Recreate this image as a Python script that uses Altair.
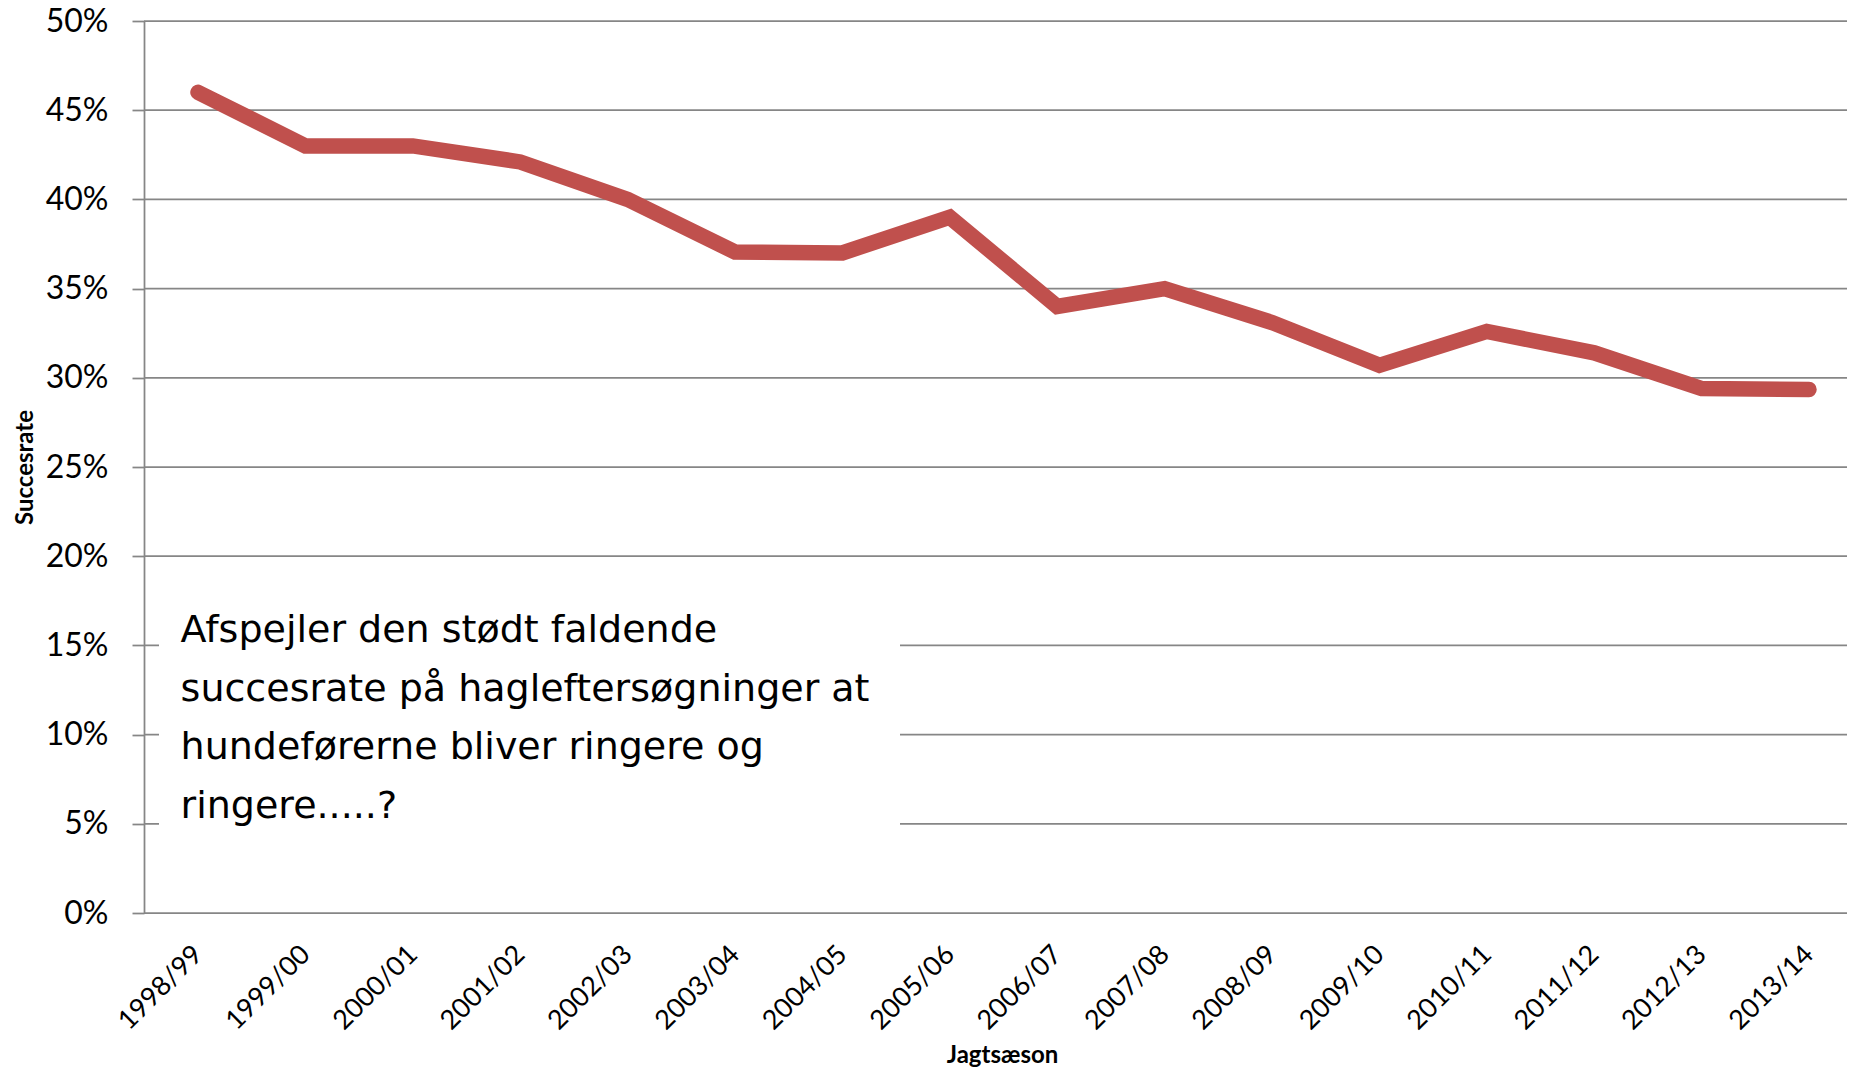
import altair as alt
import pandas as pd

seasons = ["1998/99", "1999/00", "2000/01", "2001/02", "2002/03", "2003/04",
           "2004/05", "2005/06", "2006/07", "2007/08", "2008/09", "2009/10",
           "2010/11", "2011/12", "2012/13", "2013/14"]
success_rate = [0.460, 0.430, 0.430, 0.421, 0.400, 0.3705, 0.370, 0.390,
                0.340, 0.350, 0.331, 0.307, 0.326, 0.314, 0.294, 0.2935]
y_ticks = [0.0, 0.05, 0.10, 0.15, 0.20, 0.25, 0.30, 0.35, 0.40, 0.45, 0.50]
annotation_lines = ["Afspejler den stødt faldende",
                    "succesrate på hagleftersøgninger at",
                    "hundeførerne bliver ringere og",
                    "ringere.....?"]

GRAY = "#868686"
FONT = "Lato"

df = pd.DataFrame({"Jagtsæson": seasons, "Succesrate": success_rate})
grid_df = pd.DataFrame({"Succesrate": y_ticks})
one = pd.DataFrame({"k": [0]})

y_scale = alt.Scale(domain=[0, 0.5], nice=False, zero=True)
y_axis = alt.Axis(values=y_ticks, format=".0%", labelFont=FONT,
                  labelFontSize=32, labelColor="black", labelPadding=24,
                  tickSize=12, tickColor=GRAY, tickWidth=1.75,
                  domainColor=GRAY, domainWidth=1.75, grid=False,
                  title="Succesrate", titleFont=FONT, titleFontSize=24,
                  titleFontWeight="bold", titleColor="black",
                  titleAngle=-90, titleX=-112, titleY=446,
                  titleAlign="center", titleBaseline="alphabetic")

x_enc = alt.X(
    "Jagtsæson:N", sort=seasons,
    scale=alt.Scale(type="point", range=[54, 1665], padding=0),
    axis=alt.Axis(labelAngle=-45, labelAlign="right", labelBaseline="middle",
                  labelFont=FONT, labelFontSize=27, labelColor="black",
                  labelPadding=37, ticks=False, tickSize=0,
                  domain=False, grid=False, labelOverlap=False,
                  title="Jagtsæson", titleFont=FONT, titleFontSize=24,
                  titleFontWeight="bold", titleColor="black",
                  titleX=858, titleY=149, titleAlign="center",
                  titleBaseline="alphabetic"))

grid = alt.Chart(grid_df).mark_rule(color=GRAY, strokeWidth=1.75).encode(
    y=alt.Y("Succesrate:Q", scale=y_scale, axis=y_axis),
    x=alt.value(0), x2=alt.value(1703))

box = alt.Chart(one).mark_rect(color="white").encode(
    x=alt.value(15), x2=alt.value(756), y=alt.value(564), y2=alt.value(860))

note = alt.Chart(one).mark_text(
    text=annotation_lines, align="left", baseline="alphabetic",
    font="DejaVu Sans", fontSize=38, lineHeight=58.5, color="black"
).encode(x=alt.value(36.6), y=alt.value(621))

line = alt.Chart(df).mark_line(
    color="#C0504D", strokeWidth=15.5, strokeCap="round", strokeJoin="miter"
).encode(x=x_enc, y=alt.Y("Succesrate:Q", scale=y_scale, axis=y_axis))

chart = alt.layer(grid, box, note, line).properties(
    width=1700, height=892,
    autosize=alt.AutoSizeParams(type="none"),
    padding={"left": 136, "top": 13, "right": 3, "bottom": 156},
).configure_view(stroke=None)

chart.save("out.html", embed_options={"renderer": "svg", "actions": False})
